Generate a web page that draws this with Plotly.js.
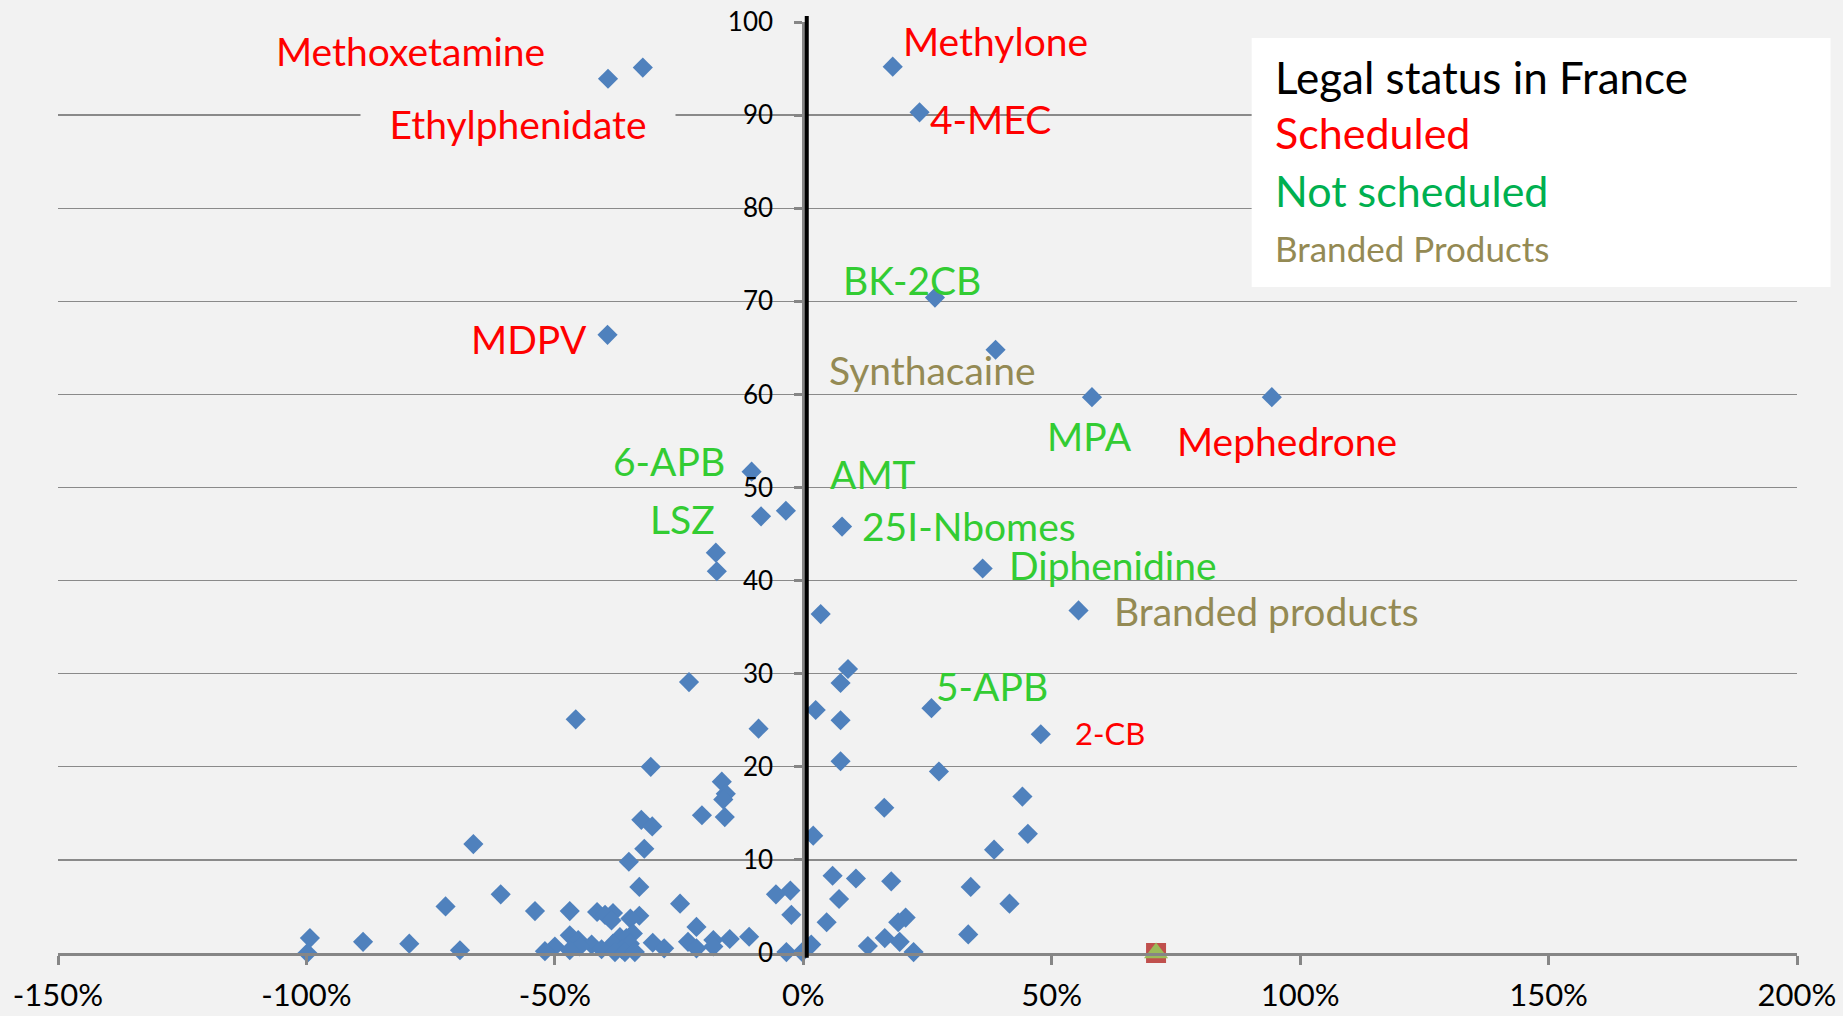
<!DOCTYPE html>
<html>
<head>
<meta charset="utf-8">
<script src="https://cdn.plot.ly/plotly-3.0.1.min.js"></script>
<style>
  html, body { margin: 0; padding: 0; background: #F2F2F2; }
  #chart { width: 1843px; height: 1016px; }
</style>
</head>
<body>
<div id="chart"></div>
<script>
// ---- DATA ----
// change (%) on x, number of mentions on y
const changePct = [
  -32.3, -39.3, 18.0, 23.4, 26.5, -39.4, 38.7, 58.1, 94.3, -10.4, -3.5, -8.5, 7.8, 36.1, 55.4, 25.8, 47.8,
  -17.6, -17.4, 3.5, 9.0, 7.5, -23.0, 2.5, 7.5, -45.8, -9.0, 7.5, 27.3, -30.7, -16.4, -15.6, -16.1,
  44.1, 16.3, -20.4, -15.8, -32.6, -30.4, 45.2, 2.0, -66.4, -32.0, 38.4, -35.1,
  5.9, 10.6, 17.7, -33.0, 33.7, -2.6, -5.5, -60.9, 7.2, -24.8, 41.5, -72.0, -54.0, -47.0, -41.5,
  -38.3, -39.9, -2.4, -33.0, 20.6, -34.8, -38.6, 4.7, 19.1, -21.5, -34.3, 33.2, -47.0, -10.9, -36.9,
  -99.3, -35.6, 16.4, -14.8, -45.3, -18.1, -88.6, -23.2, 19.4, -30.3, -79.3, -38.3, -34.9, -42.6, 1.6,
  13.0, -50.0, -45.0, -18.1, -28.0, -21.5, -40.6, -36.5, -69.1, -47.0, -52.0, -99.8, -37.9, -35.9,
  -33.9, -3.4, -0.2, 22.2
];
const mentions = [
  95.1, 93.9, 95.2, 90.3, 70.4, 66.4, 64.8, 59.7, 59.7, 51.7, 47.5, 46.9, 45.8, 41.3, 36.8, 26.3, 23.5,
  43.0, 41.0, 36.4, 30.5, 29.0, 29.1, 26.1, 25.0, 25.1, 24.1, 20.6, 19.5, 20.0, 18.4, 17.1, 16.5,
  16.8, 15.6, 14.8, 14.6, 14.3, 13.6, 12.8, 12.6, 11.7, 11.2, 11.1, 9.8,
  8.3, 8.0, 7.7, 7.1, 7.1, 6.7, 6.3, 6.3, 5.8, 5.3, 5.3, 5.0, 4.5, 4.5, 4.4,
  4.3, 4.1, 4.1, 4.0, 3.8, 3.7, 3.5, 3.3, 3.3, 2.8, 2.1, 2.0, 1.9, 1.75, 1.7,
  1.6, 1.6, 1.6, 1.5, 1.4, 1.4, 1.2, 1.2, 1.2, 1.1, 1.0, 1.0, 1.0, 0.9, 0.9,
  0.75, 0.7, 0.7, 0.7, 0.5, 0.5, 0.4, 0.4, 0.3, 0.3, 0.2, 0.0, 0.1, 0.1,
  0.1, 0.1, 0.1, 0.1
];
// names of the labelled substances (same order as the first points above)
const labelNames = [
  'Methoxetamine', 'Ethylphenidate', 'Methylone', '4-MEC', 'BK-2CB', 'MDPV', 'Synthacaine', 'MPA',
  'Mephedrone', '6-APB', 'AMT', 'LSZ', '25I-Nbomes', 'Diphenidine', 'Branded products', '5-APB', '2-CB'
];
// legal status: S = scheduled, N = not scheduled, B = branded product
const labelStatus = ['S','S','S','S','N','S','B','N','S','N','N','N','N','N','B','N','S'];

// second and third series (single points on the axis)
const series2X = [71]; const series2Y = [0];
const series3X = [71]; const series3Y = [0];

const xTickVals = [-150, -100, -50, 0, 50, 100, 150, 200];
const xTickText = ['-150%', '-100%', '-50%', '0%', '50%', '100%', '150%', '200%'];
const yTickVals = [0, 10, 20, 30, 40, 50, 60, 70, 80, 90, 100];

const legendTitle = 'Legal status in France';
const legendItems = ['Scheduled', 'Not scheduled', 'Branded Products'];

// ---- STYLE ----
const FONT = 'Lato, "Open Sans", sans-serif';
const statusColor = { S: '#FF0000', N: '#33CC33', B: '#948A54' };
const legendColors = ['#FF0000', '#00B050', '#948A54'];
// label offsets in pixels relative to their point [right, up], font size, background
const labelStyle = {
  'Methoxetamine': [-232, 16.5, 39, false],
  'Ethylphenidate': [-90.5, -45.5, 39, true],
  'Methylone': [103, 25.5, 39, false],
  '4-MEC': [70.5, -6.5, 39, false],
  'BK-2CB': [-23, 17.5, 39, false],
  'MDPV': [-79, -4, 39, false],
  'Synthacaine': [-63.5, -20, 39, false],
  'MPA': [-2.5, -38.5, 39, false],
  'Mephedrone': [15, -43.5, 39, false],
  '6-APB': [-82.5, 10.5, 39, false],
  'AMT': [87.5, 37, 39, false],
  'LSZ': [-79, -3, 39, false],
  '25I-Nbomes': [127, 0.5, 39, false],
  'Diphenidine': [130, 4, 39, false],
  'Branded products': [187.5, -0.5, 39, false],
  '5-APB': [60.5, 22.5, 39, false],
  '2-CB': [69.5, 1.5, 31, false]
};

const traces = [
  {
    type: 'scatter', mode: 'markers', x: changePct, y: mentions,
    marker: { symbol: 'diamond', size: 15.5, color: '#4F81BD', line: { width: 0 } },
    cliponaxis: false, hoverinfo: 'x+y', showlegend: false
  },
  {
    type: 'scatter', mode: 'markers', x: series2X, y: series2Y,
    marker: { symbol: 'square', size: 20, color: '#C0504D', line: { width: 0 } },
    cliponaxis: false, showlegend: false
  },
  {
    type: 'scatter', mode: 'markers', x: series3X, y: series3Y,
    marker: { symbol: 'triangle-up', size: 21, color: '#9BBB59', line: { width: 0 } },
    cliponaxis: false, showlegend: false
  }
];

const annotations = labelNames.map((name, i) => {
  const st = labelStyle[name];
  const a = {
    xref: 'x', yref: 'y', x: changePct[i], y: mentions[i],
    xshift: st[0], yshift: st[1], text: name, showarrow: false,
    xanchor: 'center', yanchor: 'middle',
    font: { family: FONT, size: st[2], color: statusColor[labelStatus[i]] }
  };
  if (st[3]) { a.bgcolor = '#F2F2F2'; a.borderpad = 8; a.width = 298; a.align = 'center'; }
  return a;
});

// legend-like text box
const legendY = [0.9404, 0.8808, 0.8185, 0.7572];
annotations.push({
  xref: 'paper', yref: 'paper', x: 0.6985, y: legendY[0], xanchor: 'left', yanchor: 'middle',
  showarrow: false, text: legendTitle, font: { family: FONT, size: 44, color: '#000000' }
});
legendItems.forEach((t, i) => {
  annotations.push({
    xref: 'paper', yref: 'paper', x: 0.6985, y: legendY[i + 1], xanchor: 'left', yanchor: 'middle',
    showarrow: false, text: t,
    font: { family: FONT, size: i === 2 ? 35 : 43, color: legendColors[i] }
  });
});

const layout = {
  width: 1843, height: 1016,
  paper_bgcolor: '#F2F2F2', plot_bgcolor: '#F2F2F2',
  margin: { l: 58, r: 46, t: 22, b: 63, pad: 0 },
  showlegend: false,
  xaxis: {
    range: [-150, 200], tickvals: xTickVals, ticktext: xTickText,
    showgrid: false, zeroline: false, showline: true, linecolor: '#868686', linewidth: 3,
    ticks: 'outside', ticklen: 9, tickwidth: 3, tickcolor: '#868686',
    tickfont: { family: FONT, size: 31, color: '#000000' }, ticklabelstandoff: 4,
    fixedrange: true
  },
  yaxis: {
    range: [0, 100], tickvals: yTickVals,
    showgrid: true, gridcolor: '#8A8A8A', gridwidth: 1.4,
    zeroline: false, showline: true, linecolor: '#868686', linewidth: 3,
    ticks: 'outside', ticklen: 8, tickwidth: 3, tickcolor: '#868686',
    anchor: 'free', position: 150 / 350, side: 'left',
    tickfont: { family: FONT, size: 26, color: '#000000' }, ticklabelstandoff: 16,
    fixedrange: true
  },
  shapes: [
    { type: 'line', xref: 'x', yref: 'paper', x0: 0.7, x1: 0.7, y0: -0.005, y1: 1.0064,
      line: { color: '#000000', width: 4 }, layer: 'above' },
    { type: 'rect', xref: 'paper', yref: 'paper', x0: 0.6864, x1: 1.0193, y0: 0.7154, y1: 0.9828,
      fillcolor: '#FFFFFF', line: { width: 0 }, layer: 'above' }
  ],
  annotations: annotations
};

Plotly.newPlot('chart', traces, layout, { displayModeBar: false, staticPlot: true });
</script>
</body>
</html>
